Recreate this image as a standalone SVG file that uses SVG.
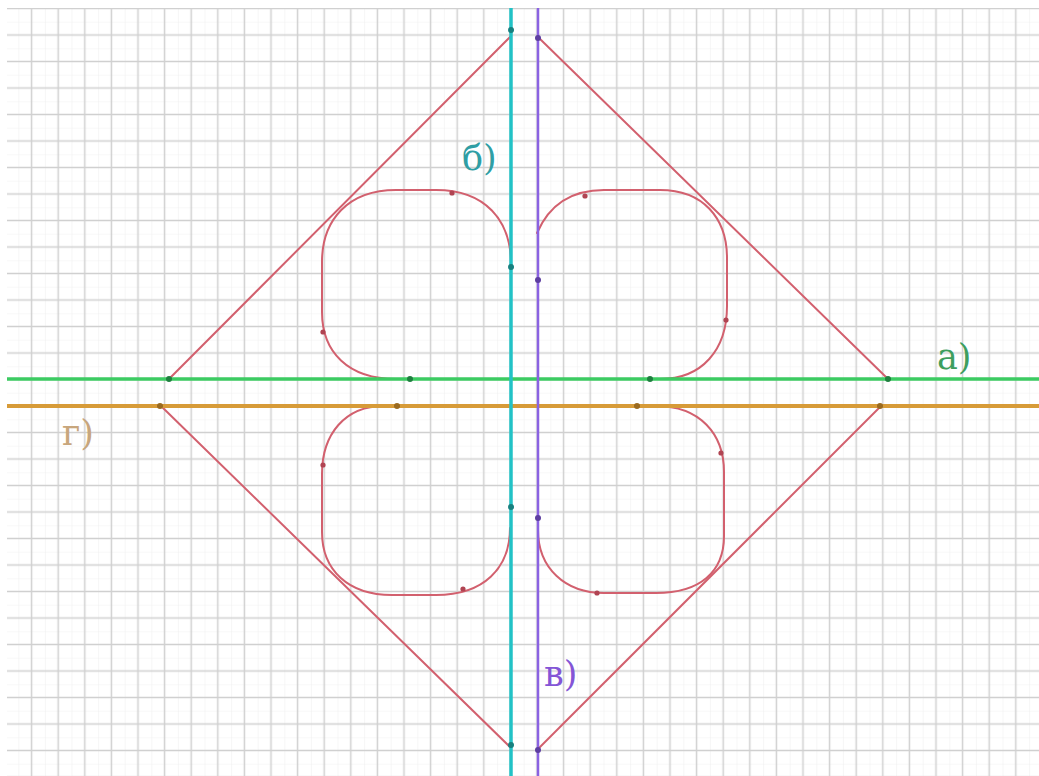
<svg xmlns="http://www.w3.org/2000/svg" width="1039" height="776" viewBox="0 0 1039 776">
<defs>
<pattern id="grid" x="124.7" y="21.75" width="26.6" height="26.5" patternUnits="userSpaceOnUse">
<path d="M0 0 V26.5 M0 0 H26.6" stroke="#f1f1f1" stroke-width="1.2" fill="none"/>
<path d="M13.3 0 V26.5 M0 13.25 H26.6" stroke="#d0d0d0" stroke-width="1.5" fill="none"/>
</pattern>
<style>
.curve{fill:none;stroke:#d2606e;stroke-width:2;stroke-linejoin:round;stroke-linecap:round}
.lbl{font-family:"DejaVu Serif","Liberation Serif",serif;font-size:35px}
.dr{fill:#b04452}
</style>
</defs>
<rect x="0" y="0" width="1039" height="776" fill="#ffffff"/>
<rect x="7" y="8" width="1032" height="768" fill="url(#grid)"/>

<g id="connectors">
<path class="curve" d="M169 379 L510 37"/>
<path class="curve" d="M539 38 L888 379"/>
<path class="curve" d="M161 406 L510 747"/>
<path class="curve" d="M539 748 L881 406"/>
<path class="curve" d="M410 379 L396 379 C348 379 322 352 322 312 L322 262 C322 220 348 190 396 190 L436 190 C485 190 511 220 511 264"/>
<path class="curve" d="M537 233 C547 210 566 190 604 190 L660 190 C703 190 727 218 727 258 L727 306 C727 350 702 379 660 379 L650 379"/>
<path class="curve" d="M397 406 L384 406 C345 406 322 434 322 474 L322 532 C322 570 348 595 392 595 L436 595 C484 595 510 568 510 528"/>
<path class="curve" d="M637 406 L656 406 C700 406 724 434 724 472 L724 536 C724 572 700 593 656 593 L604 593 C565 593 538 568 538 530"/>
<circle class="dr" cx="452" cy="193" r="2.6"/>
<circle class="dr" cx="323" cy="332" r="2.6"/>
<circle class="dr" cx="585" cy="196" r="2.6"/>
<circle class="dr" cx="726" cy="320" r="2.6"/>
<circle class="dr" cx="323" cy="465" r="2.6"/>
<circle class="dr" cx="463" cy="589" r="2.6"/>
<circle class="dr" cx="597" cy="593" r="2.6"/>
<circle class="dr" cx="721" cy="453" r="2.6"/>
</g>

<g id="line-a">
<line x1="7" y1="379" x2="1039" y2="379" stroke="#3ccb62" stroke-width="3.5"/>
<circle cx="169" cy="379" r="3" fill="#1f7f3f"/>
<circle cx="410" cy="379" r="3" fill="#1f7f3f"/>
<circle cx="650" cy="379" r="3" fill="#1f7f3f"/>
<circle cx="888" cy="379" r="3" fill="#1f7f3f"/>
<text class="lbl" x="937" y="369" fill="#3e9e5e">а)</text>
</g>

<g id="line-g">
<line x1="7" y1="406" x2="1039" y2="406" stroke="#d79b38" stroke-width="4"/>
<circle cx="160" cy="406" r="3" fill="#9a6a20"/>
<circle cx="397" cy="406" r="3" fill="#9a6a20"/>
<circle cx="637" cy="406" r="3" fill="#9a6a20"/>
<circle cx="880" cy="406" r="3" fill="#9a6a20"/>
<text class="lbl" x="62" y="445" fill="#c8a67c">г)</text>
</g>

<g id="line-b">
<line x1="511" y1="8" x2="511" y2="776" stroke="#22c2c6" stroke-width="3.5"/>
<circle cx="511" cy="30" r="3" fill="#17807f"/>
<circle cx="511" cy="267" r="3" fill="#17807f"/>
<circle cx="511" cy="507" r="3" fill="#17807f"/>
<circle cx="511" cy="745" r="3" fill="#17807f"/>
<text class="lbl" x="462" y="170" fill="#2f9ea4">б)</text>
</g>

<g id="line-v">
<line x1="538" y1="8" x2="538" y2="776" stroke="#8a62e2" stroke-width="2.5"/>
<circle cx="538" cy="38" r="3" fill="#5d3ea0"/>
<circle cx="538" cy="280" r="3" fill="#5d3ea0"/>
<circle cx="538" cy="518" r="3" fill="#5d3ea0"/>
<circle cx="538" cy="750" r="3" fill="#5d3ea0"/>
<text class="lbl" x="544" y="686" fill="#8455d6">в)</text>
</g>
</svg>
